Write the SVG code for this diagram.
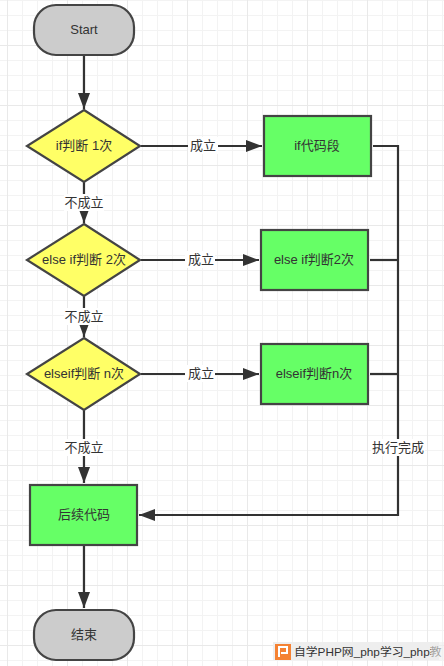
<svg xmlns="http://www.w3.org/2000/svg" width="444" height="666" viewBox="0 0 444 666">
<defs>
<pattern id="minor" x="7" y="0" width="15" height="15" patternUnits="userSpaceOnUse"><path d="M0.5 0V15M0 0.5H15" fill="none" stroke="#f3f3f3" stroke-width="1"/></pattern>
<pattern id="major" x="7" y="45" width="60" height="60" patternUnits="userSpaceOnUse"><path d="M0.5 0V60M0 0.5H60" fill="none" stroke="#e9e9e9" stroke-width="1"/></pattern>
<marker id="arrow" markerUnits="userSpaceOnUse" markerWidth="17" markerHeight="13" refX="16" refY="6" orient="auto"><path d="M0 0L16 6L0 12Z" fill="#333"/></marker>
</defs>
<style>
.t{font-family:"Liberation Sans","Noto Sans CJK SC",sans-serif;font-size:13px;fill:#333;text-anchor:middle;dominant-baseline:central}
.n{stroke:#444;stroke-width:2.2}
.term{fill:#ccc}.dec{fill:#ff6}.proc{fill:#6f6}
.c{fill:none;stroke:#333;stroke-width:2.2}
.lb{fill:#fff}
</style>
<rect width="444" height="666" fill="#fff"/>
<rect width="444" height="666" fill="url(#minor)"/>
<rect width="444" height="666" fill="url(#major)"/>
<g id="connectors">
<path class="c" d="M84 55V109" marker-end="url(#arrow)"/>
<path class="c" d="M84 182V223" marker-end="url(#arrow)"/>
<path class="c" d="M84 296V337" marker-end="url(#arrow)"/>
<path class="c" d="M84 410V483" marker-end="url(#arrow)"/>
<path class="c" d="M84 545V608" marker-end="url(#arrow)"/>
<path class="c" d="M141 146H262" marker-end="url(#arrow)"/>
<path class="c" d="M141 260H259" marker-end="url(#arrow)"/>
<path class="c" d="M141 374H259" marker-end="url(#arrow)"/>
<path class="c" d="M373 146H398V515H139" marker-end="url(#arrow)"/>
<path class="c" d="M370 260H398"/>
<path class="c" d="M370 374H398"/>
<g>
<rect class="lb" x="188" y="137" width="30" height="17"/><text class="t" x="203" y="145.500">成立</text>
<rect class="lb" x="185" y="251" width="30" height="17"/><text class="t" x="201" y="259.500">成立</text>
<rect class="lb" x="185" y="365" width="30" height="17"/><text class="t" x="201" y="373.500">成立</text>
<rect class="lb" x="64" y="194" width="40" height="17"/><text class="t" x="84" y="202.500">不成立</text>
<rect class="lb" x="64" y="308" width="40" height="17"/><text class="t" x="84" y="316.500">不成立</text>
<rect class="lb" x="64" y="439" width="40" height="17"/><text class="t" x="84" y="447.500">不成立</text>
<rect class="lb" x="371" y="439" width="54" height="17"/><text class="t" x="398" y="447.500">执行完成</text>
</g>
</g>
<g id="start"><rect class="n term" x="34" y="5" width="100" height="50" rx="22" ry="22"/><text class="t" x="84" y="29.500">Start</text></g>
<g id="d1"><path class="n dec" d="M84 110L140 146L84 182L27 146Z"/><text class="t" x="84" y="145.500">if判断 1次</text></g>
<g id="p1"><rect class="n proc" x="264" y="116" width="107" height="60"/><text class="t" x="317" y="145.500">if代码段</text></g>
<g id="d2"><path class="n dec" d="M84 224L140 260L84 296L27 260Z"/><text class="t" x="84" y="259.500">else if判断 2次</text></g>
<g id="p2"><rect class="n proc" x="261" y="230" width="107" height="60"/><text class="t" x="314" y="259.500">else if判断2次</text></g>
<g id="d3"><path class="n dec" d="M84 338L140 374L84 410L27 374Z"/><text class="t" x="84" y="373.500">elseif判断 n次</text></g>
<g id="p3"><rect class="n proc" x="261" y="344" width="107" height="60"/><text class="t" x="314" y="373.500">elseif判断n次</text></g>
<g id="after"><rect class="n proc" x="30" y="485" width="107" height="60"/><text class="t" x="84" y="514.500">后续代码</text></g>
<g id="end"><rect class="n term" x="34" y="610" width="100" height="50" rx="22" ry="22"/><text class="t" x="84" y="634.500">结束</text></g>
<g id="watermark">
<rect x="273" y="642" width="166" height="18" fill="#eee"/>
<rect x="275" y="644" width="16" height="16" fill="#f58233"/>
<path d="M279 657V647H287V653H281" fill="none" stroke="#fff" stroke-width="2"/>
<text x="294" y="652" font-family="'Liberation Sans','Noto Sans CJK SC',sans-serif" font-size="11.800" fill="#333" dominant-baseline="central">自学PHP网_php学习_php教</text>
<rect x="431" y="642" width="13" height="18" fill="#eee" opacity="0.6"/>
</g>
</svg>
